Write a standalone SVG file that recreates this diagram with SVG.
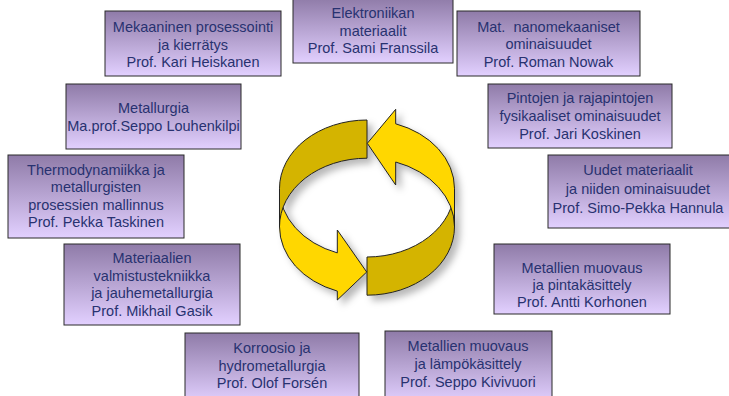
<svg xmlns="http://www.w3.org/2000/svg" width="729" height="396" viewBox="0 0 729 396">
<defs>
<linearGradient id="g" x1="0" y1="0" x2="0" y2="1">
<stop offset="0" stop-color="#8f7ba8"/>
<stop offset="1" stop-color="#e2d0ff"/>
</linearGradient>
<filter id="sh" x="-20%" y="-20%" width="150%" height="150%">
<feDropShadow dx="5" dy="5" stdDeviation="3.5" flood-color="#000" flood-opacity="0.28"/>
</filter>
</defs>
<style>
.box{fill:url(#g);stroke:#2a2a2a;stroke-width:1}
.t{font-family:"Liberation Sans",Arial,sans-serif;font-size:14.5px;fill:#283270;text-anchor:middle;white-space:pre}
.dark{fill:#d4b400;stroke:#222;stroke-width:1}
.bright{fill:#ffd700;stroke:#222;stroke-width:1}
</style>
<rect width="729" height="396" fill="#fff"/>
<g id="cycle" filter="url(#sh)">
<path class="bright" d="M279.5,188.5 A87.5,68.5 0 0 0 337.3,252.9 L337.3,230 L366.7,272 L337.3,300 L337.3,291.1 A87.5,68.5 0 0 1 279.5,226.7 Z"/>
<path class="dark" d="M367,257 A87.5,68.5 0 0 0 454.5,188.5 L454.5,226.7 A87.5,68.5 0 0 1 367,295.2 Z"/>
<path class="dark" d="M367,120 A87.5,68.5 0 0 0 279.5,188.5 L279.5,226.7 A87.5,68.5 0 0 1 367,158.2 Z"/>
<path class="bright" d="M454.5,188.5 A87.5,68.5 0 0 0 395.7,123.8 L395.7,109.3 L367.3,143.3 L395.7,185 L395.7,162 A87.5,68.5 0 0 1 454.5,226.7 Z"/>
</g>
<g id="n1"><rect class="box" x="105" y="11" width="176" height="65"/>
<text class="t" x="193" y="32">Mekaaninen prosessointi</text><text class="t" x="193" y="50">ja kierrätys</text><text class="t" x="193" y="67">Prof. Kari Heiskanen</text></g>
<g id="n2"><rect class="box" x="293" y="-2" width="160" height="65"/>
<text class="t" x="373" y="18">Elektroniikan</text><text class="t" x="373" y="36">materiaalit</text><text class="t" x="373" y="53">Prof. Sami Franssila</text></g>
<g id="n3"><rect class="box" x="457" y="11" width="183" height="65"/>
<text class="t" x="548.5" y="32">Mat.  nanomekaaniset</text><text class="t" x="548.5" y="49">ominaisuudet</text><text class="t" x="548.5" y="67">Prof. Roman Nowak</text></g>
<g id="n4"><rect class="box" x="66" y="84" width="175" height="65"/>
<text class="t" x="153.5" y="113">Metallurgia</text><text class="t" x="153.5" y="131">Ma.prof.Seppo Louhenkilpi</text></g>
<g id="n5"><rect class="box" x="488" y="84" width="184" height="64"/>
<text class="t" x="580" y="103">Pintojen ja rajapintojen</text><text class="t" x="580" y="121">fysikaaliset ominaisuudet</text><text class="t" x="580" y="139">Prof. Jari Koskinen</text></g>
<g id="n6"><rect class="box" x="8" y="155" width="176" height="83"/>
<text class="t" x="96" y="175">Thermodynamiikka ja</text><text class="t" x="96" y="192">metallurgisten</text><text class="t" x="96" y="210">prosessien mallinnus</text><text class="t" x="96" y="227">Prof. Pekka Taskinen</text></g>
<g id="n7"><rect class="box" x="548" y="155" width="185" height="73"/>
<text class="t" x="638" y="175">Uudet materiaalit</text><text class="t" x="638" y="194">ja niiden ominaisuudet</text><text class="t" x="638" y="213">Prof. Simo-Pekka Hannula</text></g>
<g id="n8"><rect class="box" x="64" y="244" width="176" height="81"/>
<text class="t" x="152" y="263">Materiaalien</text><text class="t" x="152" y="281">valmistustekniikka</text><text class="t" x="152" y="298">ja jauhemetallurgia</text><text class="t" x="152" y="316">Prof. Mikhail Gasik</text></g>
<g id="n9"><rect class="box" x="494" y="244" width="176" height="70"/>
<text class="t" x="582" y="273">Metallien muovaus</text><text class="t" x="582" y="290">ja pintakäsittely</text><text class="t" x="582" y="307">Prof. Antti Korhonen</text></g>
<g id="n10"><rect class="box" x="185" y="333" width="174" height="70"/>
<text class="t" x="272" y="353">Korroosio ja</text><text class="t" x="272" y="371">hydrometallurgia</text><text class="t" x="272" y="388">Prof. Olof Forsén</text></g>
<g id="n11"><rect class="box" x="385" y="331" width="167" height="72"/>
<text class="t" x="468" y="351">Metallien muovaus</text><text class="t" x="468" y="369">ja lämpökäsittely</text><text class="t" x="468" y="387">Prof. Seppo Kivivuori</text></g>
</svg>
